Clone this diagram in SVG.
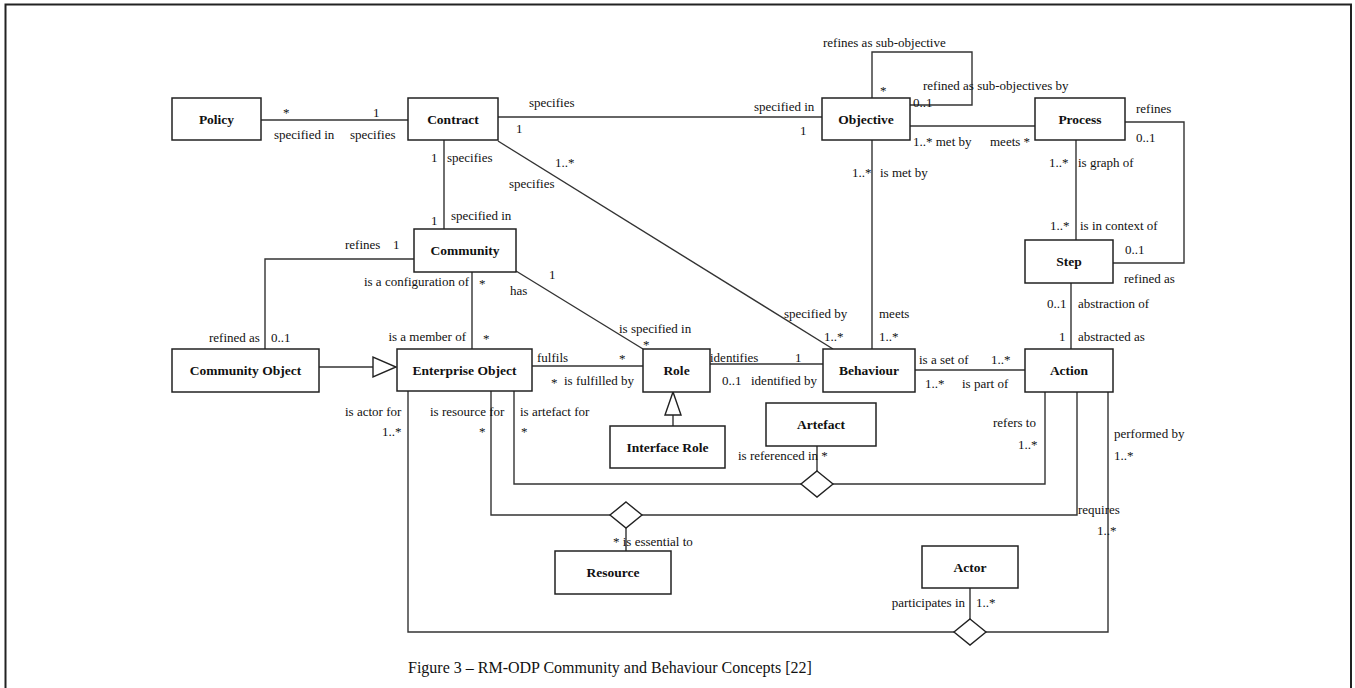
<svg xmlns="http://www.w3.org/2000/svg" width="1355" height="688" viewBox="0 0 1355 688">
<style>
.box{fill:#fff;stroke:#222;stroke-width:1.5}
.name{font-family:"Liberation Serif",serif;font-weight:bold;font-size:13.5px;text-anchor:middle;fill:#111}
.lbl{font-family:"Liberation Serif",serif;font-size:13px;fill:#111}
.end{text-anchor:end}
.ln{fill:none;stroke:#333;stroke-width:1.4}
.hd{fill:#fff;stroke:#222;stroke-width:1.4}
.cap{font-family:"Liberation Serif",serif;font-size:16px;fill:#111}
</style>
<rect width="1355" height="688" fill="#fff"/>
<path d="M5.5,690 V4.5 H1351 V690" fill="none" stroke="#222" stroke-width="2"/>

<g id="connectors">
<path class="ln" d="M261,120 H408"/>
<path class="ln" d="M498,117 H822"/>
<path class="ln" d="M444,140 V229"/>
<path class="ln" d="M498,141 L833,349"/>
<path class="ln" d="M414,259 H265 V349"/>
<path class="ln" d="M319,367 H373"/>
<polygon class="hd" points="373,357 373,377 396,367"/>
<path class="ln" d="M472,272 V349"/>
<path class="ln" d="M516,271 L643,349"/>
<path class="ln" d="M532,366 H643"/>
<path class="ln" d="M710,364 H823"/>
<path class="ln" d="M872,140 V349"/>
<path class="ln" d="M872,98 V52 H972 V105 H910"/>
<path class="ln" d="M910,126 H1035"/>
<path class="ln" d="M1076,140 V240"/>
<path class="ln" d="M1125,122 H1184 V263 H1113"/>
<path class="ln" d="M1071,283 V349"/>
<path class="ln" d="M915,370 H1025"/>
<path class="ln" d="M673,426 V415"/>
<polygon class="hd" points="665,415 681,415 673,392"/>
<path class="ln" d="M817,446 V471"/>
<path class="ln" d="M514,391 V484 H801"/>
<path class="ln" d="M833,484 H1045 V392"/>
<polygon class="hd" points="817,471 833,484 817,497 801,484"/>
<path class="ln" d="M491,391 V515 H610"/>
<path class="ln" d="M642,515 H1077 V392"/>
<polygon class="hd" points="626,502 642,515 626,528 610,515"/>
<path class="ln" d="M626,528 V551"/>
<path class="ln" d="M408,391 V632 H954"/>
<path class="ln" d="M986,632 H1108 V392"/>
<path class="ln" d="M970,588 V619"/>
<polygon class="hd" points="970,619 986,632 970,645 954,632"/>

<text class="lbl" x="283" y="117">*</text>
<text class="lbl" x="373" y="117">1</text>
<text class="lbl" x="274" y="139">specified in</text>
<text class="lbl" x="350" y="139">specifies</text>
<text class="lbl" x="529" y="107">specifies</text>
<text class="lbl" x="516" y="133">1</text>
<text class="lbl" x="754" y="111">specified in</text>
<text class="lbl" x="800" y="135">1</text>
<text class="lbl" x="431" y="162">1</text>
<text class="lbl" x="447" y="162">specifies</text>
<text class="lbl" x="431" y="225">1</text>
<text class="lbl" x="451" y="220">specified in</text>
<text class="lbl" x="555" y="167">1..*</text>
<text class="lbl" x="509" y="188">specifies</text>
<text class="lbl" x="345" y="249">refines</text>
<text class="lbl" x="393" y="249">1</text>
<text class="lbl" x="209" y="342">refined as</text>
<text class="lbl" x="271" y="342">0..1</text>
<text class="lbl end" x="469" y="286">is a configuration of</text>
<text class="lbl" x="479" y="288">*</text>
<text class="lbl" x="510" y="295">has</text>
<text class="lbl end" x="466" y="341">is a member of</text>
<text class="lbl" x="483" y="343">*</text>
<text class="lbl" x="549" y="279">1</text>
<text class="lbl" x="619" y="333">is specified in</text>
<text class="lbl" x="643" y="349">*</text>
<text class="lbl" x="537" y="362">fulfils</text>
<text class="lbl" x="619" y="363">*</text>
<text class="lbl" x="551" y="387">*</text>
<text class="lbl" x="564" y="385">is fulfilled by</text>
<text class="lbl" x="710" y="362">identifies</text>
<text class="lbl" x="795" y="362">1</text>
<text class="lbl" x="722" y="385">0..1</text>
<text class="lbl" x="751" y="385">identified by</text>
<text class="lbl" x="784" y="318">specified by</text>
<text class="lbl" x="824" y="341">1..*</text>
<text class="lbl" x="879" y="318">meets</text>
<text class="lbl" x="879" y="341">1..*</text>
<text class="lbl" x="852" y="177">1..*</text>
<text class="lbl" x="880" y="177">is met by</text>
<text class="lbl" x="823" y="47">refines as sub-objective</text>
<text class="lbl" x="880" y="95">*</text>
<text class="lbl" x="923" y="90">refined as sub-objectives by</text>
<text class="lbl" x="913" y="107">0..1</text>
<text class="lbl" x="913" y="146">1..* met by</text>
<text class="lbl" x="990" y="146">meets *</text>
<text class="lbl" x="1136" y="113">refines</text>
<text class="lbl" x="1136" y="142">0..1</text>
<text class="lbl" x="1049" y="167">1..*</text>
<text class="lbl" x="1078" y="167">is graph of</text>
<text class="lbl" x="1050" y="230">1..*</text>
<text class="lbl" x="1080" y="230">is in context of</text>
<text class="lbl" x="1125" y="254">0..1</text>
<text class="lbl" x="1124" y="283">refined as</text>
<text class="lbl" x="1047" y="308">0..1</text>
<text class="lbl" x="1078" y="308">abstraction of</text>
<text class="lbl" x="1059" y="341">1</text>
<text class="lbl" x="1078" y="341">abstracted as</text>
<text class="lbl" x="919" y="364">is a set of</text>
<text class="lbl" x="991" y="364">1..*</text>
<text class="lbl" x="925" y="388">1..*</text>
<text class="lbl" x="962" y="388">is part of</text>
<text class="lbl" x="993" y="427">refers to</text>
<text class="lbl" x="1018" y="449">1..*</text>
<text class="lbl" x="1114" y="438">performed by</text>
<text class="lbl" x="1114" y="460">1..*</text>
<text class="lbl" x="345" y="416">is actor for</text>
<text class="lbl" x="382" y="436">1..*</text>
<text class="lbl" x="430" y="416">is resource for</text>
<text class="lbl" x="479" y="436">*</text>
<text class="lbl" x="520" y="416">is artefact for</text>
<text class="lbl" x="521" y="436">*</text>
<text class="lbl" x="738" y="460">is referenced in *</text>
<text class="lbl" x="1078" y="514">requires</text>
<text class="lbl" x="1097" y="535">1..*</text>
<text class="lbl" x="613" y="546">* is essential to</text>
<text class="lbl end" x="965" y="607">participates in</text>
<text class="lbl" x="976" y="607">1..*</text>
</g>

<g id="policy"><rect class="box" x="172" y="98" width="89" height="42"/><text class="name" x="216.5" y="124">Policy</text></g>
<g id="contract"><rect class="box" x="408" y="98" width="90" height="42"/><text class="name" x="453" y="124">Contract</text></g>
<g id="objective"><rect class="box" x="822" y="98" width="88" height="42"/><text class="name" x="866" y="124">Objective</text></g>
<g id="process"><rect class="box" x="1035" y="98" width="90" height="42"/><text class="name" x="1080" y="124">Process</text></g>
<g id="community"><rect class="box" x="414" y="229" width="102" height="43"/><text class="name" x="465" y="255">Community</text></g>
<g id="step"><rect class="box" x="1025" y="240" width="88" height="43"/><text class="name" x="1069" y="266">Step</text></g>
<g id="community-object"><rect class="box" x="172" y="349" width="147" height="43"/><text class="name" x="245.5" y="375">Community Object</text></g>
<g id="enterprise-object"><rect class="box" x="397" y="349" width="135" height="42"/><text class="name" x="464.5" y="375">Enterprise Object</text></g>
<g id="role"><rect class="box" x="643" y="349" width="67" height="43"/><text class="name" x="676.5" y="375">Role</text></g>
<g id="behaviour"><rect class="box" x="823" y="349" width="92" height="43"/><text class="name" x="869" y="375">Behaviour</text></g>
<g id="action"><rect class="box" x="1025" y="349" width="88" height="43"/><text class="name" x="1069" y="375">Action</text></g>
<g id="artefact"><rect class="box" x="766" y="403" width="110" height="43"/><text class="name" x="821" y="429">Artefact</text></g>
<g id="interface-role"><rect class="box" x="610" y="426" width="115" height="42"/><text class="name" x="667.5" y="452">Interface Role</text></g>
<g id="resource"><rect class="box" x="555" y="551" width="116" height="43"/><text class="name" x="613" y="577">Resource</text></g>
<g id="actor"><rect class="box" x="922" y="546" width="96" height="42"/><text class="name" x="970" y="572">Actor</text></g>

<text class="cap" x="408" y="673">Figure 3 – RM-ODP Community and Behaviour Concepts [22]</text>
</svg>
